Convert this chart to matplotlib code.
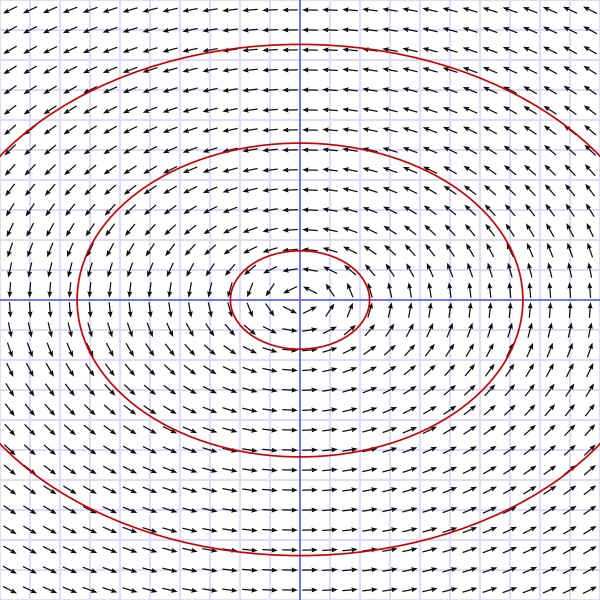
import numpy as np
import matplotlib
matplotlib.use("Agg")
import matplotlib.pyplot as plt
from matplotlib.patches import Ellipse

# Campo de direcciones: dx/dt = a*y, dy/dt = b*x
coef_a = -2.0
coef_b = 1.0

# Puntos donde se dibujan las flechas (unidades del eje)
puntos = [(10 + 20 * k - 300) / 30 for k in range(30)]

# Semiejes de las trayectorias (elipses)
semieje_x = [2.32, 7.43, 12.1]
semieje_y = [1.64, 5.23, 8.52]

lim = 10

fig = plt.figure(figsize=(6, 6), dpi=100)
ax = fig.add_axes([0, 0, 1, 1])
ax.set_xlim(-lim, lim)
ax.set_ylim(-lim, lim)
ax.set_axis_off()

# Cuadrícula y ejes
for v in range(-lim, lim + 1):
    ax.axvline(v, color="#dcdcff", lw=1.4, zorder=0)
    ax.axhline(v, color="#dcdcff", lw=1.4, zorder=0)
ax.axvline(0, color="#7070ff", lw=1.4, zorder=1)
ax.axhline(0, color="#7070ff", lw=1.4, zorder=1)

# Flechas normalizadas
X, Y = np.meshgrid(puntos, puntos)
U = coef_a * Y
V = coef_b * X
norma = np.hypot(U, V)
largo = 0.52
U = U / norma * largo
V = V / norma * largo
ax.quiver(X, Y, U, V, angles="xy", scale_units="xy", scale=1, pivot="middle",
          color="#111111", width=0.0021, headwidth=4, headlength=5,
          headaxislength=4.5, zorder=2)

# Trayectorias
for a, b in zip(semieje_x, semieje_y):
    ax.add_patch(Ellipse((0, 0), 2 * a, 2 * b, fill=False, color="#cc0000",
                         lw=1.2, zorder=3))

fig.savefig("out.png", dpi=100)
